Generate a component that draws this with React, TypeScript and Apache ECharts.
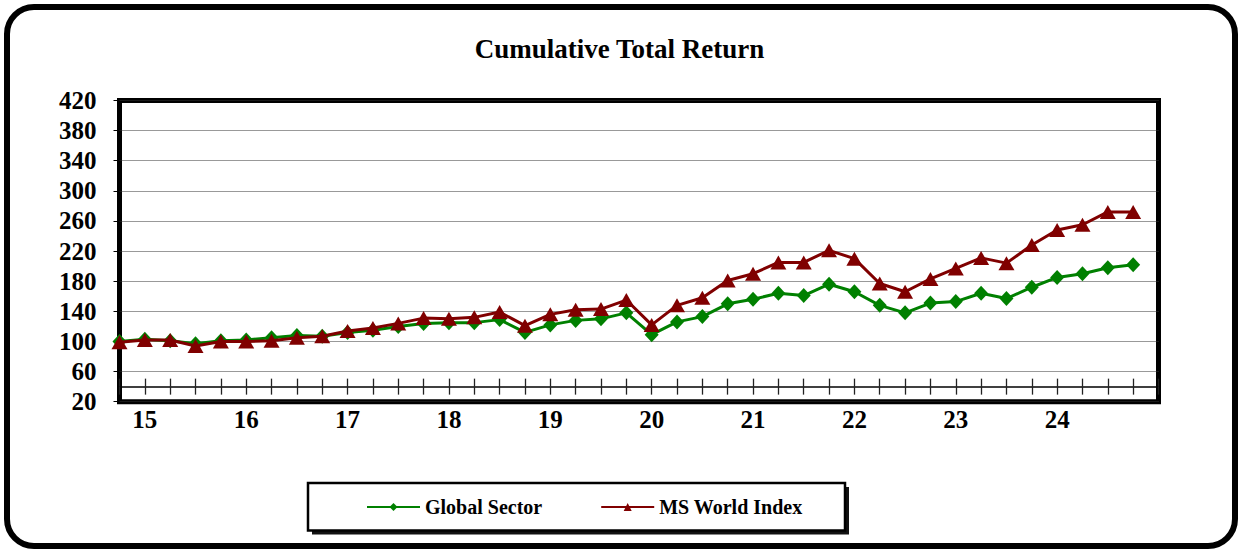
import React, { useEffect, useRef } from "react";
import * as echarts from "echarts";

const categories = [
  "14Q4",
  "15Q1", "15Q2", "15Q3", "15Q4",
  "16Q1", "16Q2", "16Q3", "16Q4",
  "17Q1", "17Q2", "17Q3", "17Q4",
  "18Q1", "18Q2", "18Q3", "18Q4",
  "19Q1", "19Q2", "19Q3", "19Q4",
  "20Q1", "20Q2", "20Q3", "20Q4",
  "21Q1", "21Q2", "21Q3", "21Q4",
  "22Q1", "22Q2", "22Q3", "22Q4",
  "23Q1", "23Q2", "23Q3", "23Q4",
  "24Q1", "24Q2", "24Q3", "24Q4",
  "25Q1",
];

const globalSector = [
  100, 103, 101, 97, 101, 102, 105, 108, 107, 112, 115, 120, 124, 125, 125, 129,
  112, 122, 128, 130, 138, 109, 126, 133, 150, 156, 164, 161, 176, 166, 148, 138,
  151, 153, 164, 157, 172, 185, 190, 198, 202,
];

const msWorldIndex = [
  99, 102, 102, 94, 100, 100, 101, 105, 107, 114, 118, 124, 131, 130, 132, 139,
  121, 136, 142, 143, 155, 122, 148, 158, 181, 190, 205, 205, 221, 210, 177, 166,
  183, 197, 211, 204, 228, 248, 255, 272, 272,
];

const seriesNames = ["Global Sector", "MS World Index"];
const titleText = "Cumulative Total Return";

const FONT = "'Liberation Serif', 'Times New Roman', serif";

export default function App() {
  const ref = useRef<HTMLDivElement>(null);

  useEffect(() => {
    if (!ref.current) return;
    const chart = echarts.init(ref.current, undefined, { renderer: "svg" });
    const gridLeft = 119.5;
    const gridTop = 100.5;
    const gridW = 1039;
    const gridH = 301.2;
    const axisOffset = -(gridH / 400) * 20;

    const xBase = {
      type: "category" as const,
      data: categories,
      boundaryGap: false,
      gridIndex: 0,
      position: "bottom" as const,
      splitLine: { show: false },
    };

    chart.setOption({
      animation: false,
      backgroundColor: "#fff",
      title: {
        text: titleText,
        left: "center",
        top: 30,
        textStyle: { fontFamily: FONT, fontSize: 27, fontWeight: "bold", color: "#000" },
      },
      legend: {
        data: seriesNames,
        left: 361,
        top: 492,
        itemWidth: 53,
        itemHeight: 10,
        itemGap: 58,
        textStyle: { fontFamily: FONT, fontSize: 20, fontWeight: "bold", color: "#000" },
        z: 10,
      },
      grid: {
        left: gridLeft,
        top: gridTop,
        width: gridW,
        height: gridH,
        show: true,
        borderColor: "#000",
        borderWidth: 5,
        backgroundColor: "transparent",
      },
      xAxis: [
        {
          ...xBase,
          axisLine: { show: false },
          axisTick: { show: false },
          axisLabel: {
            interval: 0,
            margin: 5,
            fontFamily: FONT,
            fontSize: 25,
            fontWeight: "bold",
            color: "#000",
            formatter: (v: string, i: number) =>
              i < globalSector.length && v.endsWith("Q1") ? v.slice(0, 2) : "",
          },
        },
        {
          ...xBase,
          offset: axisOffset,
          axisLine: { show: true, lineStyle: { color: "#000", width: 1.5 } },
          axisTick: { show: true, interval: 0, length: 8, lineStyle: { color: "#222", width: 1.3 } },
          axisLabel: { show: false },
        },
        {
          ...xBase,
          offset: axisOffset,
          axisLine: { show: false },
          axisTick: { show: true, inside: true, interval: 0, length: 8, lineStyle: { color: "#222", width: 1.3 } },
          axisLabel: { show: false },
        },
      ],
      yAxis: {
        type: "value",
        min: 20,
        max: 420,
        interval: 40,
        axisLine: { show: false },
        axisTick: { show: true, length: 6, lineStyle: { color: "#000", width: 1 } },
        axisLabel: {
          margin: 23,
          fontFamily: FONT,
          fontSize: 25,
          fontWeight: "bold",
          color: "#000",
        },
        splitLine: { show: true, lineStyle: { type: "dotted", color: "#333", width: 1 } },
      },
      series: [
        {
          name: seriesNames[0],
          type: "line",
          xAxisIndex: 0,
          data: globalSector,
          symbol: "diamond",
          symbolSize: [14, 15],
          color: "#008000",
          itemStyle: { color: "#008000" },
          lineStyle: { color: "#008000", width: 3 },
          z: 3,
        },
        {
          name: seriesNames[1],
          type: "line",
          xAxisIndex: 0,
          data: msWorldIndex,
          symbol: "triangle",
          symbolSize: [16, 14],
          color: "#800000",
          itemStyle: { color: "#800000" },
          lineStyle: { color: "#800000", width: 3 },
          z: 4,
        },
      ],
      graphic: [
        {
          type: "rect",
          z: 0,
          shape: { x: 7, y: 7, width: 1228, height: 539, r: 27 },
          style: { fill: "none", stroke: "#000", lineWidth: 6 },
        },
        {
          type: "rect",
          z: 0,
          shape: { x: 312, y: 487, width: 537, height: 47.5 },
          style: { fill: "#111", stroke: "none" },
        },
        {
          type: "rect",
          z: 1,
          shape: { x: 308, y: 483, width: 537, height: 47.5 },
          style: { fill: "#fff", stroke: "#000", lineWidth: 2.5 },
        },
      ],
    });
    return () => chart.dispose();
  }, []);

  return (
    <div
      ref={ref}
      style={{ position: "absolute", left: 0, top: 0, width: 1239, height: 550 }}
    />
  );
}
